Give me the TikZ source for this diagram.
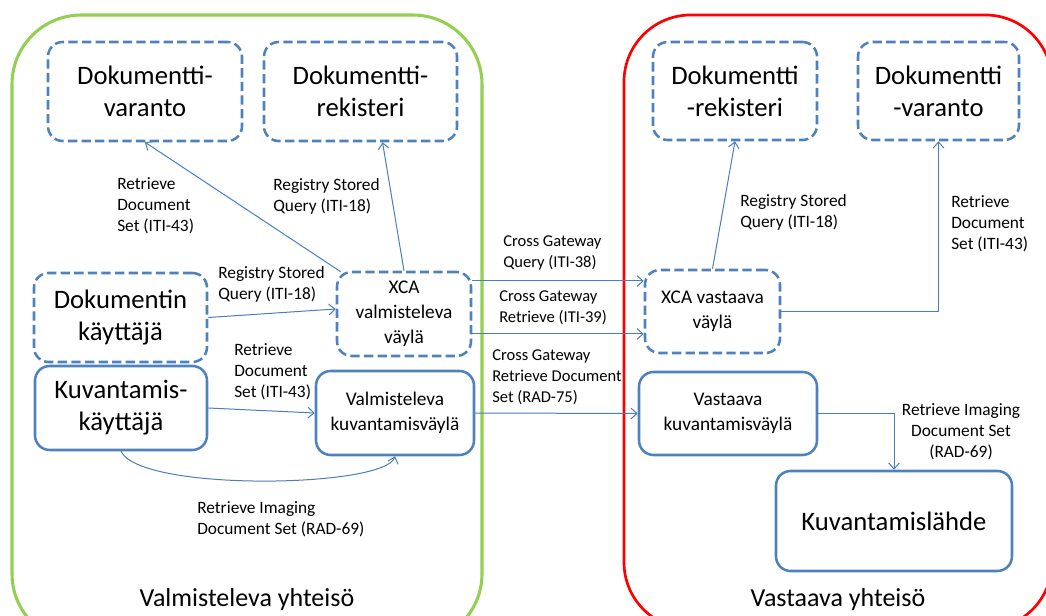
\documentclass[tikz,border=0pt]{standalone}
\usepackage{fontspec}
\setmainfont{Carlito}
\usetikzlibrary{arrows.meta,calc}
\definecolor{boxblue}{HTML}{4F81BD}
\definecolor{linkblue}{HTML}{4A7EBB}
\definecolor{greenline}{HTML}{92D050}
\definecolor{redline}{HTML}{FF0000}

\begin{document}
\begin{tikzpicture}[x=0.75pt,y=-0.75pt,
  solidbox/.style={draw=boxblue, line width=1.9pt, rounded corners=11pt, fill=white,
    align=center, inner sep=2pt, text=black},
  dashbox/.style={solidbox, dash pattern=on 7pt off 3.2pt},
  boxsize/.style 2 args={minimum width=#1*0.75pt, minimum height=#2*0.75pt},
  bigtext/.style={font=\fontsize{20}{24}\selectfont},
  midtext/.style={font=\fontsize{14.5}{18.75}\selectfont},
  lbl/.style={font=\fontsize{13}{15.75}\selectfont, align=left, inner sep=0pt, anchor=north west},
  xlbl/.style={font=\fontsize{12.4}{15.75}\selectfont, align=left, inner sep=0pt, anchor=north west},
  community/.style={font=\fontsize{19.5}{23}\selectfont, anchor=base},
  arr/.style={draw=linkblue, line width=0.75pt, -{Straight Barb[length=4.5pt,width=8pt]}},
]
\useasboundingbox (0,0) rectangle (1046,616);
\begin{scope}
  \clip (0,0) rectangle (1046,616);
  % the two communities
  \draw[greenline, line width=2.3pt, rounded corners=52pt] (12,15) rectangle (482,643);
  \draw[redline, line width=2pt, rounded corners=50pt] (624,15) rectangle (1052,629);
\end{scope}

\node[community] (vy) at (247,606) {Valmisteleva yhteisö};
\node[community] (sy) at (838,606) {Vastaava yhteisö};

% initiating community
\node[dashbox, boxsize={194}{99}, bigtext] (dv) at (145,91.5) {Dokumentti-\\varanto};
\node[dashbox, boxsize={193}{99}, bigtext] (dr) at (360.5,91.5) {Dokumentti-\\rekisteri};
\node[dashbox, boxsize={134}{84}, midtext] (xv) at (404,314) {XCA\\valmisteleva\\väylä};
\node[dashbox, boxsize={173}{89}, bigtext] (dk) at (120.5,317.5) {Dokumentin\\käyttäjä};
\node[solidbox, boxsize={172}{84}, bigtext] (kk) at (121,408) {Kuvantamis-\\käyttäjä};
\node[solidbox, boxsize={158}{84}, midtext] (vk) at (395,413) {Valmisteleva\\kuvantamisväylä};

% responding community
\node[dashbox, boxsize={164}{98}, bigtext] (rr) at (735,91) {Dokumentti\\-rekisteri};
\node[dashbox, boxsize={161}{98}, bigtext] (rv) at (938.5,91) {Dokumentti\\-varanto};
\node[dashbox, boxsize={135}{83}, midtext] (xa) at (712.5,311.5) {XCA vastaava\\väylä};
\node[solidbox, boxsize={178}{83}, midtext] (vv) at (728,413.5) {Vastaava\\kuvantamisväylä};
\node[solidbox, boxsize={236}{100}, bigtext] (kl) at (894,521) {Kuvantamislähde};

% transactions inside the initiating community
\draw[arr] ($(xv.north west)+(5,1)$) -- (dv.south);
\draw[arr] (xv.north) -- ($(dr.south)+(22,0)$);
\draw[arr] (dk.east) -- ($(xv.west)+(0,-5)$);
\draw[arr] (kk.east) -- (vk.west);
\draw[arr] (kk.south) .. controls (140,492) and (385,488) .. (vk.south);

% cross-community transactions
\draw[arr] ($(xv.east)+(0,-33)$) -- ($(xa.west)+(0,-30.5)$);
\draw[arr] ($(xv.east)+(0,20)$) -- ($(xa.west)+(0,22.5)$);
\draw[arr] (vk.east) -- (vv.west);

% transactions inside the responding community
\draw[arr] (xa.north) -- (rr.south);
\draw[arr] (xa.east) -| (rv.south);
\draw[arr] (vv.east) -| (kl.north);

% transaction labels
\node[lbl] (t1) at (117,177) {Retrieve\\Document\\Set (ITI-43)};
\node[lbl] (t2) at (273,178) {Registry Stored\\Query (ITI-18)};
\node[lbl] (t3) at (218,266) {Registry Stored\\Query (ITI-18)};
\node[lbl] (t4) at (234,343) {Retrieve\\Document\\Set (ITI-43)};
\node[lbl] (t5) at (197,501) {Retrieve Imaging\\Document Set (RAD-69)};
\node[xlbl] (t6) at (503,236) {Cross Gateway\\Query (ITI-38)};
\node[xlbl] (t7) at (499,291) {Cross Gateway\\Retrieve (ITI-39)};
\node[xlbl] (t8) at (492,350) {Cross Gateway\\Retrieve Document\\Set (RAD-75)};
\node[lbl] (t9) at (740,194) {Registry Stored\\Query (ITI-18)};
\node[lbl] (t10) at (951,195) {Retrieve\\Document\\Set (ITI-43)};
\node[lbl, align=center, anchor=north] (t11) at (961,403) {Retrieve Imaging\\Document Set\\(RAD-69)};
\end{tikzpicture}
\end{document}
